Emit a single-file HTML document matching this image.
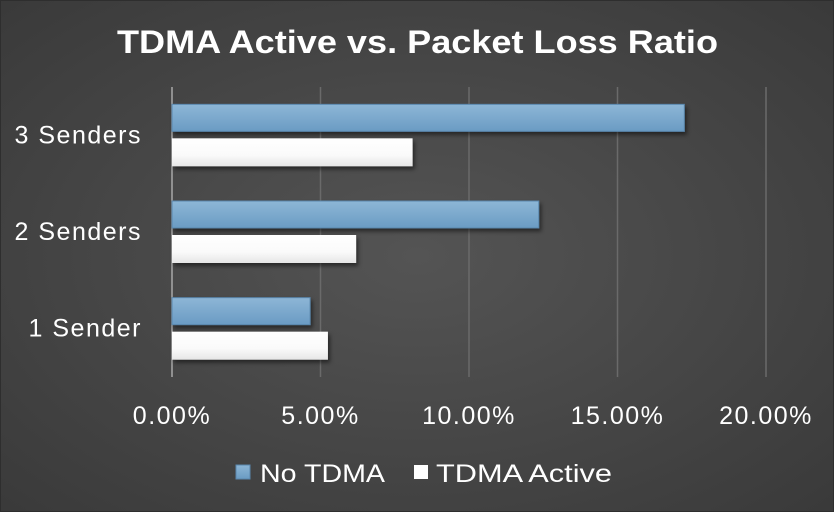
<!DOCTYPE html>
<html><head><meta charset="utf-8"><style>
html,body{margin:0;padding:0;}
body{width:834px;height:512px;overflow:hidden;font-family:"Liberation Sans",sans-serif;}
#chart{position:absolute;left:0;top:0;width:834px;height:512px;}
</style></head><body>
<svg id="chart" width="834" height="512" xmlns="http://www.w3.org/2000/svg">
<defs>
<radialGradient id="bg" cx="50%" cy="50%" r="70%">
<stop offset="0" stop-color="#545454"/><stop offset="1" stop-color="#3a3a3a"/>
</radialGradient>
<linearGradient id="blue" x1="0" y1="0" x2="0" y2="1">
<stop offset="0" stop-color="#8db6d6"/><stop offset="1" stop-color="#6a9bc3"/>
</linearGradient>
<linearGradient id="white" x1="0" y1="0" x2="0" y2="1">
<stop offset="0" stop-color="#ffffff"/><stop offset="0.6" stop-color="#fafafa"/><stop offset="1" stop-color="#e6e6e6"/>
</linearGradient>
<filter id="sh" x="-5%" y="-30%" width="110%" height="170%"><feDropShadow dx="2" dy="3" stdDeviation="2" flood-color="#000" flood-opacity="0.5"/></filter>
</defs>
<rect x="0.5" y="0.5" width="833" height="511" fill="url(#bg)" stroke="#2e2e2e"/>
<text x="117" y="53" fill="#fff" font-size="32" font-weight="bold" textLength="601" lengthAdjust="spacingAndGlyphs">TDMA Active vs. Packet Loss Ratio</text>
<g id="grid"></g>
<g id="bars"></g>
<g id="labels"></g>
<g>
<rect x="236" y="465" width="14" height="14" fill="url(#blue)" stroke="#5a87ad"/>
<text x="260" y="482" fill="#fff" font-size="25" textLength="125" lengthAdjust="spacingAndGlyphs">No TDMA</text>
<rect x="414" y="465" width="14" height="14" fill="#fff"/>
<text x="436" y="482" fill="#fff" font-size="25" textLength="176" lengthAdjust="spacingAndGlyphs">TDMA Active</text>
</g>
</svg>
<script>
const categories = ["3 Senders","2 Senders","1 Sender"];
const noTdma = [17.25, 12.35, 4.65];
const tdmaActive = [8.1, 6.2, 5.25];
const ticks = [0,5,10,15,20];
const tickLabels = ["0.00%","5.00%","10.00%","15.00%","20.00%"];

const NS="http://www.w3.org/2000/svg";
const x0=172,x1=766,yTop=87,yBot=377;
const xs=v=>x0+(v/20)*(x1-x0);
const band=(yBot-yTop)/categories.length;
function mk(t,a,p){const e=document.createElementNS(NS,t);for(const k in a)e.setAttribute(k,a[k]);p.appendChild(e);return e;}
const grid=document.getElementById('grid'),bars=document.getElementById('bars'),labels=document.getElementById('labels');
ticks.forEach((t,i)=>{
  if(i>0){const g=mk('line',{x1:xs(t),x2:xs(t),y1:yTop,y2:yBot,stroke:'#6a6a6a','stroke-width':1.5},grid);
  
  }
  const tx=mk('text',{x:xs(t),y:424,'text-anchor':'middle',fill:'#fff','font-size':25,'letter-spacing':1.5},labels);
  tx.textContent=tickLabels[i];
  
  
});
const ax=mk('line',{x1:x0,x2:x0,y1:yTop,y2:yBot,stroke:'#a8a8a8','stroke-width':1.5},grid);


categories.forEach((c,i)=>{
  const cy=yTop+band*(i+0.5);
  const b1=mk('rect',{x:x0,y:cy-31,width:xs(noTdma[i])-x0,height:27,fill:'url(#blue)',stroke:'#5a87ad','stroke-width':1,filter:'url(#sh)'},bars);
  
  
  const b2=mk('rect',{x:x0,y:cy+3,width:xs(tdmaActive[i])-x0,height:28,fill:'url(#white)',filter:'url(#sh)'},bars);
  
  
  const t=mk('text',{x:142,y:cy+8,'text-anchor':'end',fill:'#fff','font-size':25,'letter-spacing':1.5},labels);
  t.textContent=c;
  
  
});
</script>
</body></html>
